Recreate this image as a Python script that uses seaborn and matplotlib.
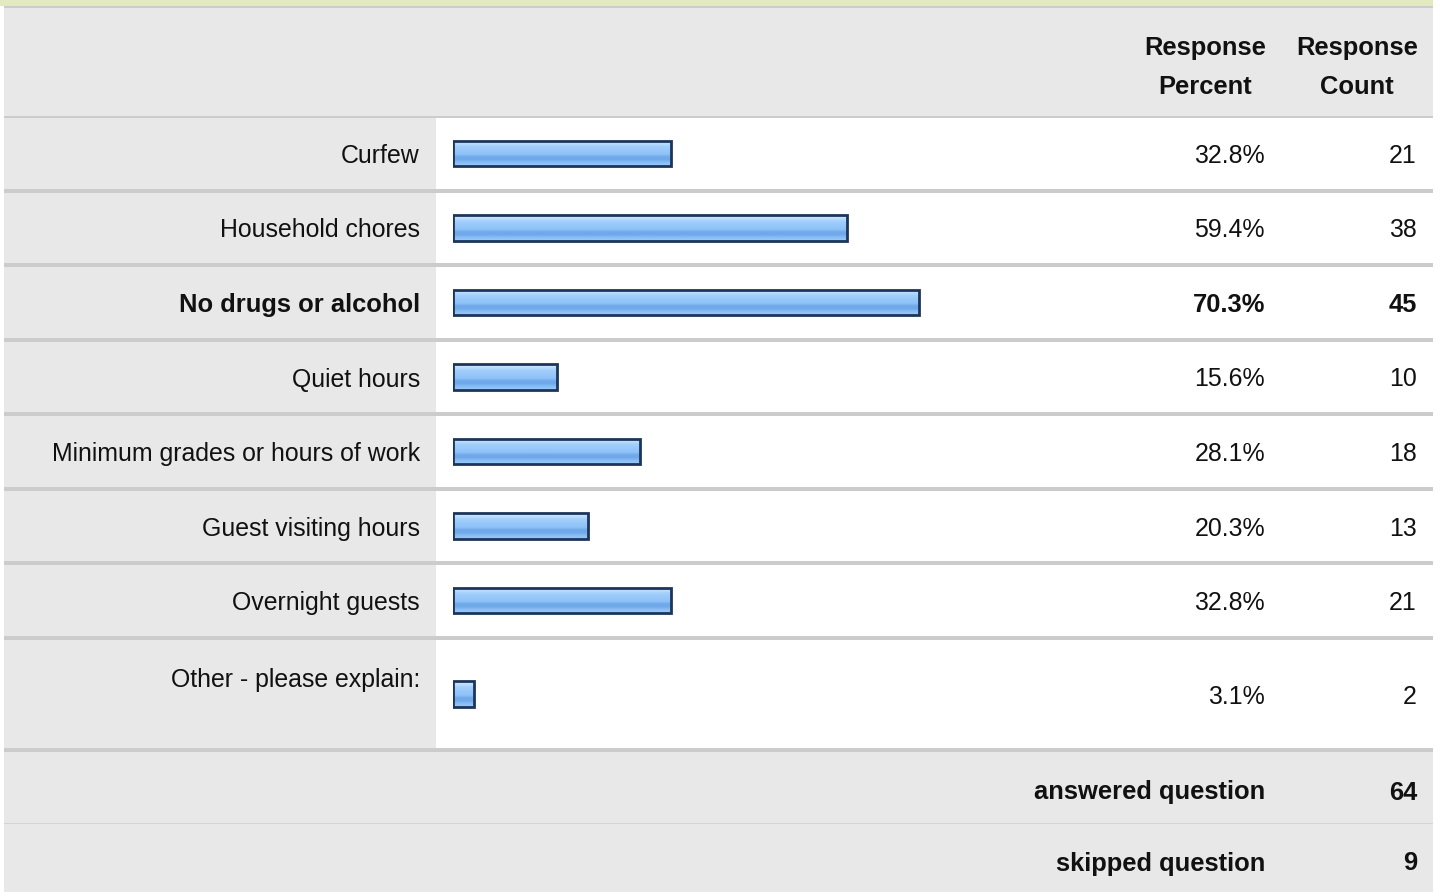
import numpy as np
import seaborn as sns
from matplotlib import pyplot as plt
from matplotlib import transforms
from matplotlib.colors import to_rgb
from matplotlib.patches import Rectangle

# survey results
options = ['Curfew', 'Household chores', 'No drugs or alcohol', 'Quiet hours',
           'Minimum grades or hours of work', 'Guest visiting hours',
           'Overnight guests', 'Other - please explain:']
percents = [32.8, 59.4, 70.3, 15.6, 28.1, 20.3, 32.8, 3.1]
counts = [21, 38, 45, 10, 18, 13, 21, 2]
answered = 64
skipped = 9

sns.set_style('white')
plt.rcParams['font.family'] = ['Liberation Sans', 'DejaVu Sans']

W, H = 1440, 892
GRAY = '#e8e8e8'
LINE = '#cccccc'
EDGE = '#1c355a'
FS = 17.9
FSB = 18.4
INK = '#111111'
# stripes of the bar fill, top to bottom
BAR_STRIPES = ['#d2e8ff', '#b8dbfe', '#a3cffc', '#9acafa', '#94c6f9',
               '#8dc1f6', '#70a9ea', '#70a9ea', '#86bbf4', '#95c7f8']

fig = plt.figure(figsize=(W / 100, H / 100), dpi=100)
bg = fig.add_axes([0, 0, 1, 1])
bg.set_xlim(0, W)
bg.set_ylim(H, 0)
bg.axis('off')


def px_axes(x0, y0, x1, y1):
    return fig.add_axes([x0 / W, 1 - y1 / H, (x1 - x0) / W, (y1 - y0) / H])


def box(x0, y0, x1, y1, color):
    bg.add_patch(Rectangle((x0, y0), x1 - x0, y1 - y0, color=color, lw=0))


# table background
L, R, SPLIT = 4, 1433, 436
pitch = (640 - 118) / 7
box(0, 0, R, 6, '#e4eabf')
box(L, 6, R, 8, LINE)
box(L, 8, R, 116, GRAY)
box(L, 116, R, 118, LINE)
box(L, 118, SPLIT, 752, GRAY)
box(SPLIT, 118, R, 752, 'white')
for i in range(7):
    yb = 118 + pitch * (i + 1) - 4
    box(L, yb, R, yb + 4, LINE)
box(L, 748, R, 752, LINE)
box(L, 752, R, H, GRAY)
box(L, 822.5, R, 824, '#d4d4d4')

# bars
bar_left = 453.25
bar_w = 663
ax1 = px_axes(bar_left, 116, bar_left + bar_w, 638)
ax2 = px_axes(bar_left, 640, bar_left + bar_w, 748)
grad = np.array([to_rgb(c) for c in BAR_STRIPES])[:, None, :]


def draw_bars(ax, xs, ys, width):
    sns.barplot(x=xs, y=ys, ax=ax, orient='h', width=width, color='#94c6f8',
                saturation=1, edgecolor=EDGE, linewidth=2.0)
    for p in ax.patches:
        x, y, w, h = p.get_x(), p.get_y(), p.get_width(), p.get_height()
        im = ax.imshow(grad, extent=(x, x + w, y + h, y), aspect='auto',
                       interpolation='bilinear', zorder=0.5)
        im.set_clip_path(p)
        p.set_facecolor('none')
        p.set_zorder(1)
    ax.set_xlim(0, 100)
    ax.set_ylim(len(ys) - 0.5, -0.5)
    ax.axis('off')


draw_bars(ax1, percents[:7], options[:7], 25.5 / pitch)
draw_bars(ax2, percents[7:], options[7:], 25.5 / 108)

# text
top = int(np.argmax(percents))
for i, (opt, p, c) in enumerate(zip(options, percents, counts)):
    ax = ax1 if i < 7 else ax2
    yy = i if i < 7 else 0
    tr = transforms.blended_transform_factory(bg.transData, ax.transData)
    wt = 'bold' if i == top else 'normal'
    fs = FSB if i == top else FS
    if i < 7:
        bg.text(420, yy, opt, transform=tr, ha='right', va='center_baseline',
                fontsize=fs, weight=wt, color=INK)
    else:
        bg.text(420, 677, opt, ha='right', va='center_baseline',
                fontsize=fs, weight=wt, color=INK)
    bg.text(1265, yy, f'{p:.1f}%', transform=tr, ha='right',
            va='center_baseline', fontsize=fs, weight=wt, color=INK)
    bg.text(1417, yy, str(c), transform=tr, ha='right',
            va='center_baseline', fontsize=fs, weight=wt, color=INK)

for x, words in [(1205, ('Response', 'Percent')), (1357, ('Response', 'Count'))]:
    bg.text(x, 46, words[0], ha='center', va='center_baseline', fontsize=FSB,
            weight='bold', color=INK)
    bg.text(x, 84, words[1], ha='center', va='center_baseline', fontsize=FSB,
            weight='bold', color=INK)

bg.text(1265, 790, 'answered question', ha='right', va='center_baseline',
        fontsize=FSB, weight='bold', color=INK)
bg.text(1417, 790, str(answered), ha='right', va='center_baseline',
        fontsize=FSB, weight='bold', color=INK)
bg.text(1265, 861, 'skipped question', ha='right', va='center_baseline',
        fontsize=FSB, weight='bold', color=INK)
bg.text(1417, 861, str(skipped), ha='right', va='center_baseline',
        fontsize=FSB, weight='bold', color=INK)

fig.savefig('out.png', dpi=100)
